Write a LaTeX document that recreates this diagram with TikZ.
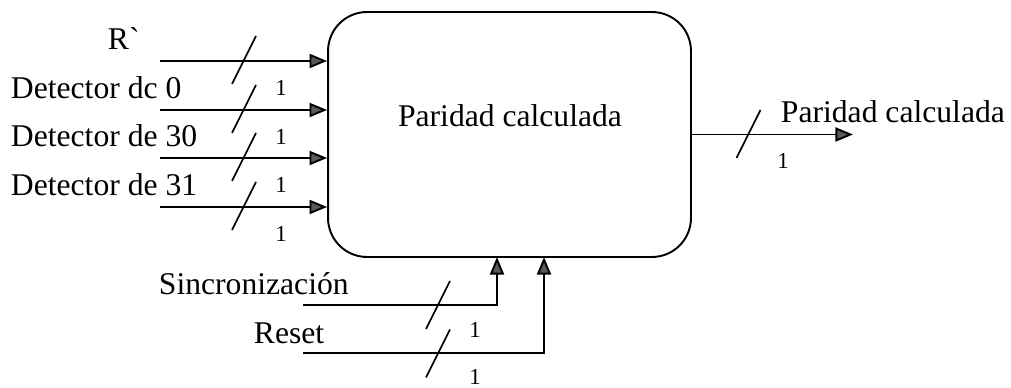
\documentclass[tikz,border=0pt]{standalone}
\usepackage{fontspec}
\setmainfont{Liberation Serif}
\usetikzlibrary{arrows.meta,positioning,calc}
\tikzset{every picture/.style={line width=1.1pt}}
\tikzset{
  sig/.style={-{Triangle[length=10pt,width=8pt,fill=black!65]}},
  busmark/.style={line width=0.9pt},
  buswidth/.style={font=\fontsize{13}{15}\selectfont, inner sep=0pt},
  lbl/.style={font=\fontsize{18}{21}\selectfont, inner sep=0pt, anchor=base west},
}

\begin{document}
\begin{tikzpicture}[x=0.02cm, y=-0.02cm]
    \useasboundingbox (0,0) rectangle (1011,388);

    % bloque principal
    \node[draw, rounded corners=0.78cm, minimum width=7.26cm, minimum height=4.9cm] (calc) at (509.5,134.5) {};
    \node[lbl, anchor=base] (calctxt) at (510,127) {Paridad calculada};

    % entradas por la izquierda, cada una de 1 bit
    \foreach \name/\y/\x/\txt in {r/61/107/R\textasciigrave, d0/110/10/Detector dc 0, d30/158/10/Detector de 30, d31/207/10/Detector de 31} {
        \coordinate (\name) at (160,\y);
        \node[lbl] (\name-lbl) at (\x,\y-11) {\txt};
        \draw[sig] (\name) -- (\name -| calc.west);
        \draw[busmark] (244,\y-1) ++(-12,24) -- ++(24,-48);
        \node[buswidth] (\name-w) at (281,\y+27) {1};
    }

    % salida
    \coordinate (out) at (853,134.5);
    \draw[sig] (calc.east) -- (out);
    \draw[busmark] (748.5,134) ++(-12,24) -- ++(24,-48);
    \node[buswidth] (out-w) at (783,161) {1};
    \node[lbl] (out-lbl) at (780,123) {Paridad calculada};

    % entradas por abajo
    \coordinate (sync) at (303,305);
    \coordinate (synctop) at (497,257);
    \coordinate (rst) at (303,353);
    \coordinate (rsttop) at (544,257);
    \node[lbl] (sync-lbl) at (158,295) {Sincronización};
    \node[lbl] (rst-lbl) at (253,343) {Reset};
    \draw[sig] (sync) -| (synctop);
    \draw[sig] (rst) -| (rsttop);
    \draw[busmark] (438,305) ++(-12,24) -- ++(24,-48);
    \draw[busmark] (438,353.5) ++(-12,24) -- ++(24,-48);
    \node[buswidth] (sync-w) at (475,330) {1};
    \node[buswidth] (rst-w) at (475,377) {1};
\end{tikzpicture}
\end{document}
